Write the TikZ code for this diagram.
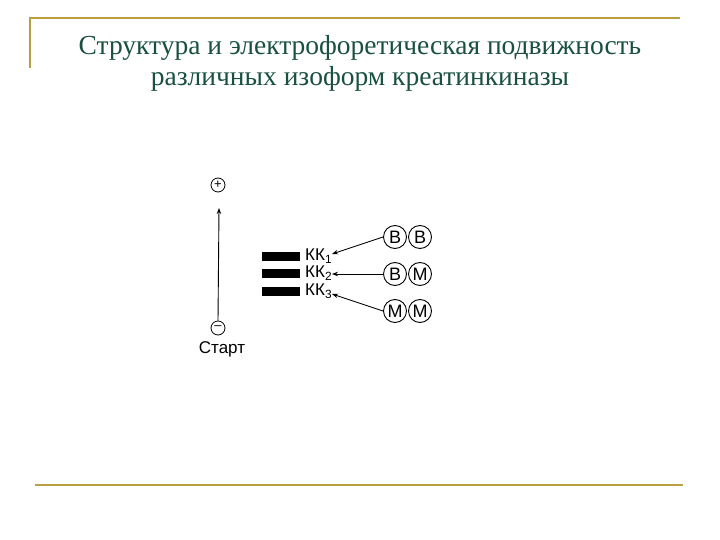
\documentclass[tikz,border=0pt]{standalone}
\usetikzlibrary{arrows.meta}
\usepackage{fontspec}
\setmainfont{Liberation Serif}
\newfontfamily\dsans{Liberation Sans}
\begin{document}
\begin{tikzpicture}[x=1pt,y=-1pt,
  gold/.style={draw={rgb,255:red,184;green,160;blue,64},line width=1.5pt},
  ion/.style={circle,draw,line width=0.8pt,inner sep=0pt,minimum size=14pt,font=\dsans\fontsize{13}{13}\selectfont},
  sub/.style={circle,draw,line width=0.9pt,inner sep=0pt,minimum size=23pt,font=\dsans\fontsize{18}{18}\selectfont},
  bar/.style={fill=black,minimum width=38pt,minimum height=9pt,inner sep=0pt},
  kk/.style={anchor=west,inner sep=0pt,font=\dsans\fontsize{17}{17}\selectfont},
  arr/.style={-{Stealth[length=6pt,width=4.5pt]},line width=0.9pt}]
\useasboundingbox (0,0) rectangle (720,540);
\coordinate (g1) at (30,68); \coordinate (g2) at (30,18); \coordinate (g3) at (680,18);
\draw[gold] (g1) -- (g2) -- (g3);
\coordinate (b1) at (35,485); \coordinate (b2) at (683,485);
\draw[gold] (b1) -- (b2);
\node[align=center,text={rgb,255:red,25;green,80;blue,65},font=\fontsize{27.5}{31}\selectfont] (title) at (360,63) {Структура и электрофоретическая подвижность\\различных изоформ креатинкиназы};
\node[ion] (plus) at (218,185) {+};
\node[ion] (minus) at (218,328) {\raisebox{0.5pt}{–}};
\node[font=\dsans\fontsize{17}{17}\selectfont] (start) at (222,349) {Старт};
\coordinate (top) at (219,208);
\draw[arr] (minus.north) -- (top);
\node[bar] (r1) at (281,256) {};
\node[bar] (r2) at (281,273) {};
\node[bar] (r3) at (281,291) {};
\node[kk] (k1) at (305,256) {КК\textsubscript{1}};
\node[kk] (k2) at (305,273) {КК\textsubscript{2}};
\node[kk] (k3) at (305,291) {КК\textsubscript{3}};
\node[sub] (a1) at (395,237) {B}; \node[sub] (a2) at (420,237) {B};
\node[sub] (c1) at (395,274) {B}; \node[sub] (c2) at (420,274) {M};
\node[sub] (d1) at (395,311) {M}; \node[sub] (d2) at (420,311) {M};
\coordinate (e1) at (332,254); \coordinate (e2) at (332,274); \coordinate (e3) at (332,294);
\draw[arr] (a1.west) -- (e1);
\draw[arr] (c1.west) -- (e2);
\draw[arr] (d1.west) -- (e3);
\end{tikzpicture}
\end{document}
